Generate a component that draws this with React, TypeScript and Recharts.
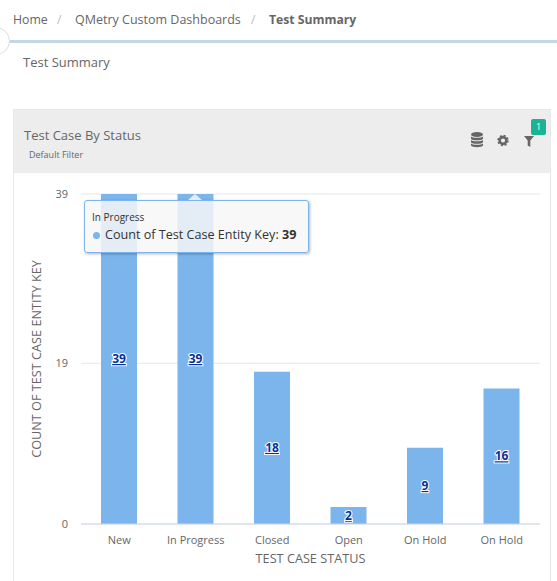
import { BarChart, Bar, XAxis, YAxis, CartesianGrid, Tooltip, LabelList, Label } from 'recharts';

const CATEGORIES = ['New', 'In Progress', 'Closed', 'Open', 'On Hold', 'On Hold '];
const COUNTS = [39, 39, 18, 2, 9, 16];
const Y_TICKS = [0, 19, 39];
const SERIES_NAME = 'Count of Test Case Entity Key';

const chartData = CATEGORIES.map((status, i) => ({ status, count: COUNTS[i] }));

const FONT = '"Open Sans", sans-serif';

function Text({ x, y, size, color = '#666', bold = false, children }: any) {
  return (
    <div style={{ position: 'absolute', left: x, top: y, fontSize: size, color, fontWeight: bold ? 700 : 400, lineHeight: 1, whiteSpace: 'nowrap' }}>
      {children}
    </div>
  );
}

function StatusTooltip({ active, payload }: any) {
  if (!active || !payload || !payload.length) return null;
  return (
    <div style={{ position: 'relative', width: 225, height: 53, boxSizing: 'border-box', background: 'rgba(247,247,247,0.85)', border: '1px solid #7cb5ec', borderRadius: 3, boxShadow: '1px 1px 3px rgba(0,0,0,0.3)', fontFamily: FONT, color: '#333' }}>
      {/* caret pointing at the hovered bar */}
      <div style={{ position: 'absolute', left: 103, top: -7, width: 0, height: 0, borderLeft: '7px solid transparent', borderRight: '7px solid transparent', borderBottom: '6px solid rgba(247,247,247,0.85)' }} />
      <div style={{ position: 'absolute', left: 7, top: 9, fontSize: 10, whiteSpace: 'nowrap' }}>{payload[0].payload.status.trim()}</div>
      <div style={{ position: 'absolute', left: 8, top: 31, width: 7, height: 7, borderRadius: '50%', background: '#7cb5ec' }} />
      <div style={{ position: 'absolute', left: 20, top: 25, fontSize: 12.6, whiteSpace: 'nowrap' }}>
        {SERIES_NAME}: <b>{payload[0].value}</b>
      </div>
    </div>
  );
}

function renderCountLabel(props: any) {
  const { x, y, width, height, value } = props;
  return (
    <text
      x={x + width / 2}
      y={y + height / 2 + 4}
      textAnchor="middle"
      fontFamily={FONT}
      fontSize={12}
      fontWeight={700}
      fill="#003399"
      stroke="#fff"
      strokeWidth={2}
      paintOrder="stroke"
      textDecoration="underline"
    >
      {value}
    </text>
  );
}

export default function App() {
  return (
    <div style={{ position: 'absolute', left: 0, top: 0, width: 557, height: 581, overflow: 'hidden', background: '#fff', fontFamily: FONT }}>
      {/* breadcrumb */}
      <Text x={13} y={14} size={12.3}>Home</Text>
      <Text x={57} y={14} size={12} color="#bbb">/</Text>
      <Text x={75} y={14} size={12.5}>QMetry Custom Dashboards</Text>
      <Text x={251} y={14} size={12} color="#bbb">/</Text>
      <Text x={269} y={14} size={12.2} bold>Test Summary</Text>
      <div style={{ position: 'absolute', left: 0, top: 40, width: 557, height: 2.5, background: '#c4d8e4' }} />
      <div style={{ position: 'absolute', left: -18, top: 27, width: 26, height: 26, borderRadius: '50%', background: '#fff', border: '1px solid #ddd' }} />
      <Text x={23} y={56} size={13}>Test Summary</Text>

      {/* card */}
      <div style={{ position: 'absolute', left: 13, top: 109, width: 538, height: 480, boxSizing: 'border-box', border: '1px solid #e8e8e8' }} />
      <div style={{ position: 'absolute', left: 14, top: 110, width: 536, height: 63, background: '#ededed' }} />
      <Text x={24} y={129} size={13}>Test Case By Status</Text>
      <Text x={29} y={150} size={9}>Default Filter</Text>

      {/* header icons */}
      <svg style={{ position: 'absolute', left: 465, top: 128 }} width={75} height={26}>
        <g fill="#666">
          <ellipse cx={12} cy={6.5} rx={6} ry={2.5} />
          <path d="M6 8.5c1 1.8 11 1.8 12 0v2.2c-1 2-11 2-12 0zM6 12c1 1.8 11 1.8 12 0v2.2c-1 2-11 2-12 0zM6 15.5c1 1.8 11 1.8 12 0v2c-1 2.2-11 2.2-12 0z" />
          <circle cx={38} cy={12.5} r={3.4} fill="none" stroke="#666" strokeWidth={2.6} />
          <circle cx={38} cy={12.5} r={5} fill="none" stroke="#666" strokeWidth={1.5} strokeDasharray="2 1.93" />
          <path d="M59 8h10l-3.7 4.5V19l-2.6-1.6v-4.9z" />
        </g>
      </svg>
      <div style={{ position: 'absolute', left: 531, top: 119, width: 15, height: 16, background: '#1ab394', borderRadius: 2, color: '#fff', fontSize: 9, lineHeight: '16px', textAlign: 'center' }}>1</div>

      {/* chart */}
      <div style={{ position: 'absolute', left: 0, top: 0 }}>
        <BarChart width={557} height={581} data={chartData} margin={{ top: 194, right: 17, left: 0, bottom: 0 }} barSize={36}>
          <CartesianGrid vertical={false} stroke="#e6e6e6" />
          <XAxis
            dataKey="status"
            height={57}
            stroke="#ccd6eb"
            tickLine={false}
            tickMargin={6}
            tick={{ fontSize: 11, fill: '#666', fontFamily: FONT }}
            interval={0}
            tickFormatter={(v: string) => v.trim()}
          >
            <Label value="TEST CASE STATUS" position="insideBottom" offset={18} style={{ fontSize: 12.7, fill: '#666', fontFamily: FONT }} />
          </XAxis>
          <YAxis
            width={81}
            domain={[0, 39]}
            ticks={Y_TICKS}
            axisLine={false}
            tickLine={false}
            tickMargin={7}
            tick={{ fontSize: 11, fill: '#666', fontFamily: FONT }}
          >
            <Label value="COUNT OF TEST CASE ENTITY KEY" angle={-90} position="insideLeft" offset={36} style={{ fontSize: 12.7, fill: '#666', fontFamily: FONT, textAnchor: 'middle' }} />
          </YAxis>
          <Tooltip defaultIndex={1} cursor={false} content={<StatusTooltip />} position={{ x: 84, y: 200 }} isAnimationActive={false} wrapperStyle={{ outline: 'none' }} />
          <Bar dataKey="count" name={SERIES_NAME} fill="#7cb5ec" isAnimationActive={false}>
            <LabelList dataKey="count" content={renderCountLabel} />
          </Bar>
        </BarChart>
      </div>
    </div>
  );
}
